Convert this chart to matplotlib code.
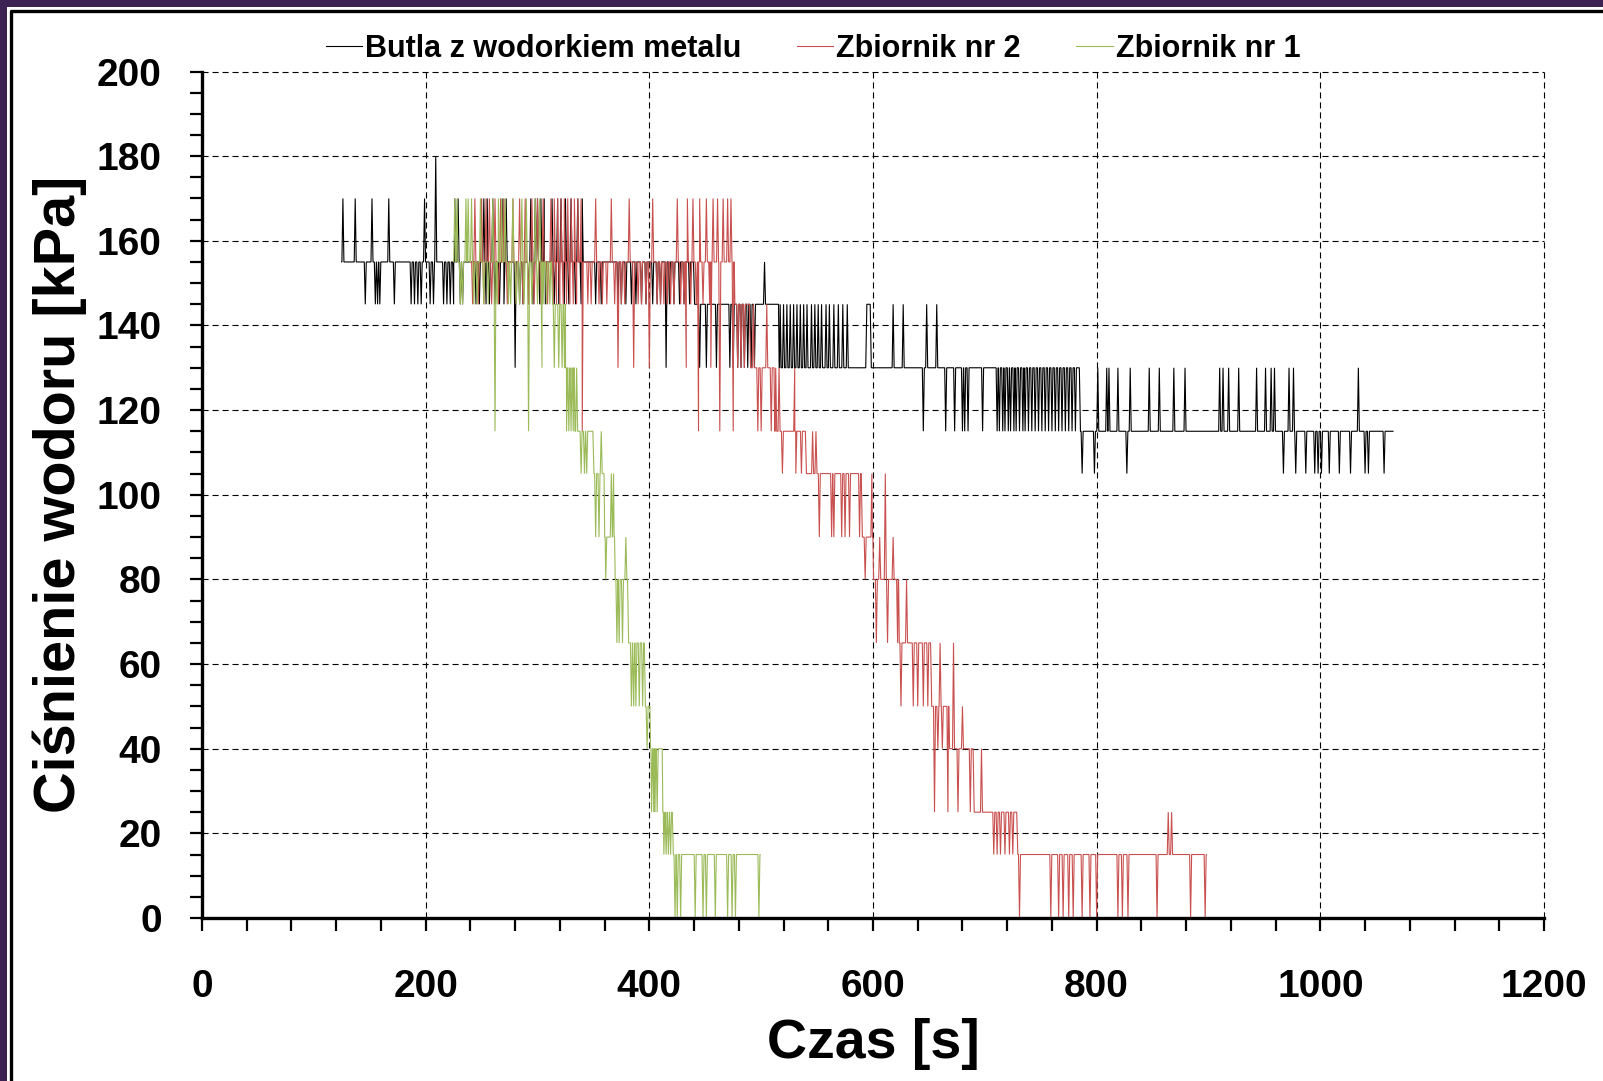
import numpy as np
import matplotlib
matplotlib.use('Agg')
import matplotlib.pyplot as plt
from matplotlib.lines import Line2D
from matplotlib.patches import Rectangle
from matplotlib.ticker import MultipleLocator

plt.rcParams['font.family'] = ['Liberation Sans', 'DejaVu Sans']
plt.rcParams['font.weight'] = 'bold'

W, H = 1603, 1081

# time [s] / pressure [kPa]
# baseline steps: (start time, level); spikes: (level, [times])
black_base = [(125, 155), (440, 145), (516, 130), (594, 145), (598, 130), (785, 115)]
black_end = 1065
black_spikes = [
    (180, [209]),
    (170, [126, 137, 152, 167, 199, 226, 229, 252, 255, 260, 269, 272, 294, 298, 300, 303, 306,
           313, 318, 321, 325, 330, 336, 340]),
    (155, [503]),
    (145, [146, 155, 157, 159, 172, 187, 190, 193, 196, 204, 207, 216, 219, 222, 225, 231, 233,
           245, 248, 254, 257, 262, 266, 270, 284, 287, 292, 296, 302, 307, 315, 319, 324, 328,
           334, 339, 352, 357, 372, 375, 379, 384, 388, 393, 397, 403, 407, 410, 418, 422, 427,
           431, 436,
           517, 520, 523, 526, 529, 532, 535, 538, 541, 545, 548, 551, 554, 558, 561, 565, 569,
           573, 577, 618, 627, 648, 657]),
    (130, [280, 415, 445, 451, 460, 472, 475, 479, 482, 485, 488, 491, 494,
           801, 809, 811, 819, 830, 847, 856, 869, 879, 910, 913, 918, 927, 943, 951, 956, 959,
           972, 976, 1034]),
    (115, [645, 665, 673, 680, 682, 685, 698, 711, 713, 716, 718, 721, 723, 726, 728, 731, 734,
           736, 739, 742, 745, 748, 751, 754, 757, 760, 763, 766, 769, 772, 775, 778, 781]),
    (105, [787, 798, 827, 967, 978, 987, 995, 998, 1001, 1008, 1017, 1027, 1040, 1043, 1057]),
]

red_base = [(240, 155), (476, 145), (490, 130), (512, 115), (540, 105), (590, 90), (600, 80),
            (623, 65), (652, 50), (668, 40), (690, 25), (729, 15)]
red_end = 898
red_spikes = [
    (170, [244, 250, 254, 257, 262, 267, 270, 278, 284, 289, 295, 300, 305, 312, 315, 318, 321,
           324, 327, 330, 333, 336, 339, 352, 366, 382, 403, 425, 434, 439, 445, 451, 457, 461,
           466, 470, 473]),
    (145, [242, 247, 252, 259, 265, 273, 281, 287, 292, 297, 303, 309, 314, 317, 320, 323, 326,
           329, 332, 335, 345, 348, 355, 358, 362, 369, 375, 378, 390, 393, 397, 407, 410, 413,
           416, 419, 422, 428, 431, 437, 442, 448, 454, 493, 505]),
    (130, [372, 386, 400, 433, 455, 479, 482, 485, 513, 516, 530]),
    (115, [340, 444, 463, 475, 497, 500, 509, 546, 549]),
    (105, [519, 531, 536, 599, 611]),
    (90, [552, 563, 565, 572, 575, 579, 588, 606, 618]),
    (80, [593, 630]),
    (65, [603, 613, 622, 660, 672]),
    (50, [625, 636, 640, 645, 649, 680]),
    (40, [658, 662, 697]),
    (25, [655, 667, 676, 687, 864, 867]),
    (15, [708, 711, 714, 718, 722, 725]),
    (0, [731, 759, 766, 770, 775, 779, 787, 794, 800, 819, 823, 828, 854, 884, 897]),
]

green_base = [(225, 155), (313, 145), (324, 130), (333, 115), (350, 105), (360, 90), (369, 80),
              (381, 65), (396, 50), (401, 40), (412, 25), (421, 15)]
green_end = 499
green_spikes = [
    (170, [226, 228, 236, 238, 241, 249, 260, 265, 268, 271, 278, 286, 290, 298, 302]),
    (145, [231, 233, 243, 246, 252, 256, 264, 274, 276, 281, 284, 288, 295, 300, 305, 308, 311,
           325]),
    (130, [304, 315, 319, 322, 335]),
    (115, [262, 292, 326, 328, 330, 332, 357]),
    (105, [339, 342, 344, 366, 368]),
    (90, [352, 355, 379]),
    (80, [361]),
    (65, [371, 373, 376]),
    (50, [384, 386, 388, 391, 394]),
    (40, [398]),
    (25, [402, 404, 405, 407]),
    (15, [413, 415, 417, 419]),
    (0, [423, 425, 428, 441, 448, 451, 459, 470, 474, 477, 498]),
]

labels = ['Butla z wodorkiem metalu', 'Zbiornik nr 2', 'Zbiornik nr 1']
colors = ['#000000', '#c9504f', '#9bbb59']


def build(base, spikes, t_end, w=0.9):
    starts = np.array([b[0] for b in base])
    levels = np.array([b[1] for b in base])

    def level_at(t):
        return levels[np.searchsorted(starts, t, side='right') - 1]

    pts = [(starts[0], levels[0])]
    for i in range(1, len(base)):
        pts.append((starts[i] - 0.5, levels[i - 1]))
        pts.append((starts[i] + 0.5, levels[i]))
    pts.append((t_end, levels[-1]))
    for lvl, times in spikes:
        for t in times:
            b = level_at(t)
            pts += [(t - w, b), (t, lvl), (t + w, b)]
    pts.sort(key=lambda p: p[0])
    x, y = zip(*pts)
    return x, y


fig = plt.figure(figsize=(W / 100, H / 100), dpi=100, facecolor='#3c2354')
# white slide area with black frame
fig.patches.append(Rectangle((7 / W, 0), 1, 1 - 7 / H, transform=fig.transFigure,
                             facecolor='white', edgecolor='none', zorder=-2))
fig.add_artist(Line2D([10.5 / W, 10.5 / W, 1], [0, 1 - 10.5 / H, 1 - 10.5 / H],
                      transform=fig.transFigure, color='black', lw=2.4, zorder=-1))

ax = fig.add_axes([202 / W, (H - 918) / H, 1342 / W, 846.5 / H])
ax.set_facecolor('none')

series = [(black_base, black_spikes, black_end),
          (red_base, red_spikes, red_end),
          (green_base, green_spikes, green_end)]
handles = []
for (base, spikes, t_end), lab, c in zip(series, labels, colors):
    x, y = build(base, spikes, t_end)
    ln, = ax.plot(x, y, color=c, lw=0.8, label=lab, solid_joinstyle='miter')
    handles.append(ln)

ax.set_xlim(0, 1200)
ax.set_ylim(0, 200)
ax.xaxis.set_major_locator(MultipleLocator(200))
ax.xaxis.set_minor_locator(MultipleLocator(40))
ax.yaxis.set_major_locator(MultipleLocator(20))
ax.yaxis.set_minor_locator(MultipleLocator(5))

for s in ['top', 'right']:
    ax.spines[s].set_visible(False)
for s in ['left', 'bottom']:
    ax.spines[s].set_linewidth(2.4)

ax.tick_params(which='both', direction='out', length=9, width=1.6, labelsize=28)
ax.tick_params(axis='y', which='major', pad=20)
ax.tick_params(axis='x', which='major', pad=28)

ax.grid(True, which='major', color='black', lw=0.8, ls=(0, (5.5, 3.5)))
for gl in ax.get_xgridlines() + ax.get_ygridlines():
    gl.set_clip_on(False)
ax.set_axisbelow(True)

ax.set_xlabel('Czas [s]', fontsize=40, fontweight='bold')
ax.xaxis.set_label_coords(0.5, -0.118)
ax.set_ylabel('Ciśnienie wodoru [kPa]', fontsize=41.5, fontweight='bold')
ax.yaxis.set_label_coords(-0.086, 0.5)

ax.legend(handles=handles, loc='center', bbox_to_anchor=(813 / W, 1 - 49 / H),
          bbox_transform=fig.transFigure, ncol=3, frameon=False, fontsize=22,
          handlelength=1.2, handletextpad=0.1, columnspacing=1.8, borderpad=0.2)

fig.savefig('out.png', dpi=100, facecolor=fig.get_facecolor())
